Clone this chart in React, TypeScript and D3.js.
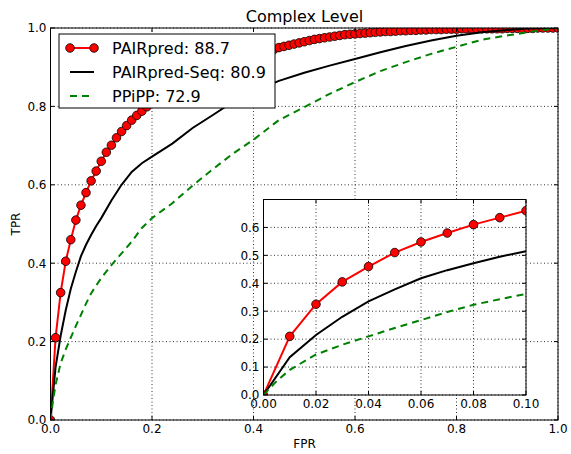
import { line, range, scaleLinear } from "d3";

const WIDTH = 571;
const HEIGHT = 454;

const TITLE = "Complex Level";
const X_LABEL = "FPR";
const Y_LABEL = "TPR";

const MAIN_TICKS = [0, 0.2, 0.4, 0.6, 0.8, 1.0];
const INSET_X_TICKS = [0, 0.02, 0.04, 0.06, 0.08, 0.1];
const INSET_Y_TICKS = [0, 0.1, 0.2, 0.3, 0.4, 0.5, 0.6];

// PAIRpred: one marker every 0.01 of FPR
const PAIR_FPR = range(0, 101).map((i) => i / 100);
const PAIR_TPR = [
  0, 0.21, 0.325, 0.405, 0.46, 0.51, 0.548, 0.58, 0.61, 0.635,
  0.66, 0.683, 0.701, 0.72, 0.736, 0.751, 0.765, 0.777, 0.788, 0.799,
  0.809, 0.819, 0.828, 0.837, 0.845, 0.853, 0.86, 0.867, 0.874, 0.88,
  0.886, 0.891, 0.896, 0.901, 0.906, 0.911, 0.915, 0.919, 0.923, 0.927,
  0.931, 0.935, 0.938, 0.942, 0.945, 0.95, 0.953, 0.956, 0.959, 0.962,
  0.965, 0.968, 0.971, 0.973, 0.975, 0.977, 0.979, 0.981, 0.983, 0.984,
  0.985, 0.986, 0.987, 0.988, 0.989, 0.99, 0.991, 0.991, 0.992, 0.993,
  0.993, 0.994, 0.994, 0.995, 0.995, 0.996, 0.996, 0.996, 0.997, 0.997,
  0.997, 0.998, 0.998, 0.998, 0.998, 0.998, 0.998, 0.998, 0.998, 0.998,
  0.999, 0.999, 0.999, 0.999, 0.999, 0.999, 1.0, 1.0, 1.0, 1.0, 1.0,
];

const SEQ_FPR = [
  0, 0.01, 0.02, 0.03, 0.04, 0.05, 0.06, 0.07, 0.08, 0.09, 0.1, 0.12, 0.14,
  0.16, 0.18, 0.2, 0.24, 0.28, 0.32, 0.36, 0.4, 0.45, 0.5, 0.55, 0.6, 0.65,
  0.7, 0.75, 0.8, 0.85, 0.9, 0.94, 1.0,
];
const SEQ_TPR = [
  0, 0.135, 0.215, 0.28, 0.335, 0.378, 0.418, 0.447, 0.472, 0.495, 0.515,
  0.56, 0.6, 0.633, 0.655, 0.672, 0.705, 0.745, 0.778, 0.812, 0.838, 0.865,
  0.886, 0.904, 0.921, 0.938, 0.954, 0.968, 0.98, 0.989, 0.995, 0.999, 1.0,
];

const PPIPP_FPR = [
  0, 0.005, 0.01, 0.02, 0.03, 0.04, 0.05, 0.06, 0.07, 0.08, 0.09, 0.1, 0.12,
  0.14, 0.16, 0.18, 0.2, 0.24, 0.28, 0.32, 0.36, 0.4, 0.45, 0.5, 0.55, 0.6,
  0.65, 0.7, 0.75, 0.8, 0.85, 0.9, 0.95, 1.0,
];
const PPIPP_TPR = [
  0, 0.05, 0.09, 0.145, 0.18, 0.21, 0.24, 0.268, 0.297, 0.323, 0.343, 0.362,
  0.395, 0.425, 0.455, 0.49, 0.515, 0.553, 0.598, 0.64, 0.68, 0.715, 0.765,
  0.798, 0.832, 0.862, 0.89, 0.913, 0.934, 0.952, 0.97, 0.981, 0.991, 1.0,
];

const LEGEND_LABELS = ["PAIRpred: 88.7", "PAIRpred-Seq: 80.9", "PPiPP: 72.9"];

const FONT = "DejaVu Sans, sans-serif";
const RED = "#ff0000";
const GREEN = "#008000";

type Pt = [number, number];
const zipPts = (xs: number[], ys: number[]): Pt[] => xs.map((x, i) => [x, ys[i]]);

const pairPts = zipPts(PAIR_FPR, PAIR_TPR);
const seqPts = zipPts(SEQ_FPR, SEQ_TPR);
const ppippPts = zipPts(PPIPP_FPR, PPIPP_TPR);

const mainX = scaleLinear().domain([0, 1]).range([50.5, 558]);
const mainY = scaleLinear().domain([0, 1]).range([420, 28]);
const insetX = scaleLinear().domain([0, 0.1]).range([263.5, 526]);
const insetY = scaleLinear().domain([0, 0.7]).range([395, 199.5]);

function Panel({ x, y, clipId, xTicks, yTicks, xFmt, yFmt }) {
  const [x0, x1] = x.range();
  const [y0, y1] = y.range();
  const path = line<Pt>()
    .x((d) => x(d[0]))
    .y((d) => y(d[1]));
  const visiblePair = pairPts.filter((d) => d[0] <= x.domain()[1] + 1e-9);
  return (
    <g>
      <defs>
        <clipPath id={clipId}>
          <rect x={x0} y={y1} width={x1 - x0} height={y0 - y1} />
        </clipPath>
      </defs>
      <rect x={x0} y={y1} width={x1 - x0} height={y0 - y1} fill="#fff" />
      {xTicks.map((t) => (
        <line
          key={`gx${t}`}
          x1={x(t)}
          x2={x(t)}
          y1={y0}
          y2={y1}
          stroke="#000"
          strokeWidth={0.8}
          strokeDasharray="1,2.5"
        />
      ))}
      {yTicks.map((t) => (
        <line
          key={`gy${t}`}
          x1={x0}
          x2={x1}
          y1={y(t)}
          y2={y(t)}
          stroke="#000"
          strokeWidth={0.8}
          strokeDasharray="1,2.5"
        />
      ))}
      <g clipPath={`url(#${clipId})`}>
        <path d={path(pairPts) ?? ""} fill="none" stroke={RED} strokeWidth={2} />
        {visiblePair.map((d, i) => (
          <circle
            key={i}
            cx={x(d[0])}
            cy={y(d[1])}
            r={4.3}
            fill={RED}
            stroke="#000"
            strokeWidth={0.8}
          />
        ))}
        <path d={path(seqPts) ?? ""} fill="none" stroke="#000" strokeWidth={2} />
        <path
          d={path(ppippPts) ?? ""}
          fill="none"
          stroke={GREEN}
          strokeWidth={2}
          strokeDasharray="7,5"
        />
      </g>
      <rect
        x={x0}
        y={y1}
        width={x1 - x0}
        height={y0 - y1}
        fill="none"
        stroke="#000"
        strokeWidth={1}
      />
      {xTicks.map((t) => (
        <g key={`tx${t}`}>
          <line x1={x(t)} x2={x(t)} y1={y0} y2={y0 - 4} stroke="#000" />
          <line x1={x(t)} x2={x(t)} y1={y1} y2={y1 + 4} stroke="#000" />
          <text
            x={x(t)}
            y={y0 + 13}
            textAnchor="middle"
            fontSize={12}
            fontFamily={FONT}
          >
            {xFmt(t)}
          </text>
        </g>
      ))}
      {yTicks.map((t) => (
        <g key={`ty${t}`}>
          <line x1={x0} x2={x0 + 4} y1={y(t)} y2={y(t)} stroke="#000" />
          <line x1={x1} x2={x1 - 4} y1={y(t)} y2={y(t)} stroke="#000" />
          <text
            x={x0 - 4}
            y={y(t) + 4.3}
            textAnchor="end"
            fontSize={12}
            fontFamily={FONT}
          >
            {yFmt(t)}
          </text>
        </g>
      ))}
    </g>
  );
}

function Legend() {
  const left = 59;
  const top = 34;
  const rows = [48, 72, 96];
  return (
    <g>
      <rect x={left} y={top} width={216} height={74} fill="#fff" stroke="#000" strokeWidth={1} />
      <line x1={70} x2={94} y1={rows[0]} y2={rows[0]} stroke={RED} strokeWidth={2} />
      <circle cx={70} cy={rows[0]} r={4.3} fill={RED} stroke="#000" strokeWidth={0.8} />
      <circle cx={94} cy={rows[0]} r={4.3} fill={RED} stroke="#000" strokeWidth={0.8} />
      <line x1={70} x2={94} y1={rows[1]} y2={rows[1]} stroke="#000" strokeWidth={2} />
      <line
        x1={70}
        x2={94}
        y1={rows[2]}
        y2={rows[2]}
        stroke={GREEN}
        strokeWidth={2}
        strokeDasharray="7,5"
      />
      {LEGEND_LABELS.map((label, i) => (
        <text key={label} x={112} y={rows[i] + 5.8} fontSize={16} fontFamily={FONT}>
          {label}
        </text>
      ))}
    </g>
  );
}

export default function App() {
  return (
    <svg
      width={WIDTH}
      height={HEIGHT}
      style={{ position: "absolute", left: 0, top: 0, background: "#fff" }}
    >
      <rect width={WIDTH} height={HEIGHT} fill="#fff" />
      <text x={304.5} y={21.5} textAnchor="middle" fontSize={16} fontFamily={FONT}>
        {TITLE}
      </text>
      <Panel
        x={mainX}
        y={mainY}
        clipId="clip-main"
        xTicks={MAIN_TICKS}
        yTicks={MAIN_TICKS}
        xFmt={(t) => t.toFixed(1)}
        yFmt={(t) => t.toFixed(1)}
      />
      <Legend />
      <Panel
        x={insetX}
        y={insetY}
        clipId="clip-inset"
        xTicks={INSET_X_TICKS}
        yTicks={INSET_Y_TICKS}
        xFmt={(t) => t.toFixed(2)}
        yFmt={(t) => t.toFixed(1)}
      />
      <text x={304.5} y={448} textAnchor="middle" fontSize={12} fontFamily={FONT}>
        {X_LABEL}
      </text>
      <text
        transform="translate(20,224) rotate(-90)"
        textAnchor="middle"
        fontSize={12}
        fontFamily={FONT}
      >
        {Y_LABEL}
      </text>
    </svg>
  );
}
